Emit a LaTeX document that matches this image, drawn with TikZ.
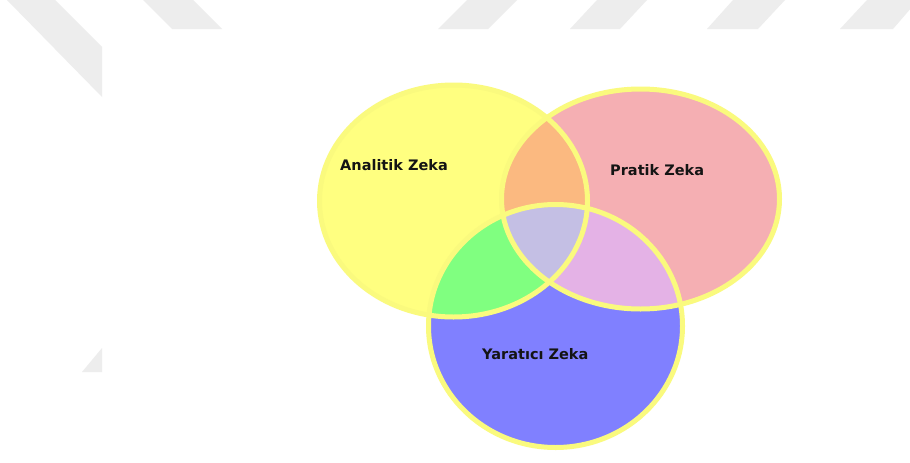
\documentclass[tikz,border=0pt]{standalone}
\usepackage{fontspec}
\setmainfont{DejaVu Sans}
\definecolor{wm}{HTML}{EDEDED}
\definecolor{cYel}{HTML}{FFFF80}
\definecolor{cPink}{HTML}{F5AFB3}
\definecolor{cBlue}{HTML}{8080FF}
\definecolor{cOrange}{HTML}{FBB980}
\definecolor{cGreen}{HTML}{80FF80}
\definecolor{cLilac}{HTML}{E4B2E6}
\definecolor{cCenter}{HTML}{C4BFE4}
\definecolor{cBorder}{HTML}{FAFA7E}
\tikzset{
  wmark/.style={fill=wm, draw=none},
  rim/.style={draw=cBorder, line width=5pt},
  lbl/.style={anchor=base west, inner sep=0pt, font=\fontsize{14.5}{16}\selectfont\bfseries, text=black!92}
}
\newcommand{\ellY}{(453.5,201) ellipse [x radius=134pt, y radius=116pt]}
\newcommand{\ellP}{(640.5,199) ellipse [x radius=139pt, y radius=110pt]}
\newcommand{\ellB}{(555.5,326) ellipse [x radius=127pt, y radius=121.5pt]}
\begin{document}
\begin{tikzpicture}[x=1pt,y=-1pt]
\useasboundingbox (0,0) rectangle (910,463);
\fill[white] (0,0) rectangle (910,463);
% watermark
\begin{scope}
\clip (0,0) rectangle (910,463);
\fill[wmark] (7,0) -- (55,0) -- (102,47) -- (102,97) -- cycle;
\fill[wmark] (143,0) -- (193,0) -- (222,29) -- (172,29) -- cycle;
\fill[wmark] (467,0) -- (517,0) -- (488,29) -- (438,29) -- cycle;
\fill[wmark] (597,0) -- (647,0) -- (620,29) -- (570,29) -- cycle;
\fill[wmark] (733,0) -- (785,0) -- (758,29) -- (707,29) -- cycle;
\fill[wmark] (867,0) -- (918,0) -- (893,29) -- (840,29) -- cycle;
\fill[wmark] (102,348) -- (102,372) -- (82,372) -- cycle;
\end{scope}
% base fills
\fill[cYel] \ellY;
\fill[cPink] \ellP;
\fill[cBlue] \ellB;
% pairwise intersections
\begin{scope}
\clip \ellY;
\fill[cOrange] \ellP;
\fill[cGreen] \ellB;
\end{scope}
\begin{scope}
\clip \ellP;
\fill[cLilac] \ellB;
\end{scope}
\begin{scope}
\clip \ellY;
\clip \ellP;
\fill[cCenter] \ellB;
\end{scope}
% outlines
\draw[rim] \ellY;
\draw[rim] \ellP;
\draw[rim] \ellB;
% labels
\node[lbl] (analitik) at (340,170) {Analitik Zeka};
\node[lbl] (pratik) at (610,175) {Pratik Zeka};
\node[lbl] (yaratici) at (482,359) {Yaratıcı Zeka};
\end{tikzpicture}
\end{document}
